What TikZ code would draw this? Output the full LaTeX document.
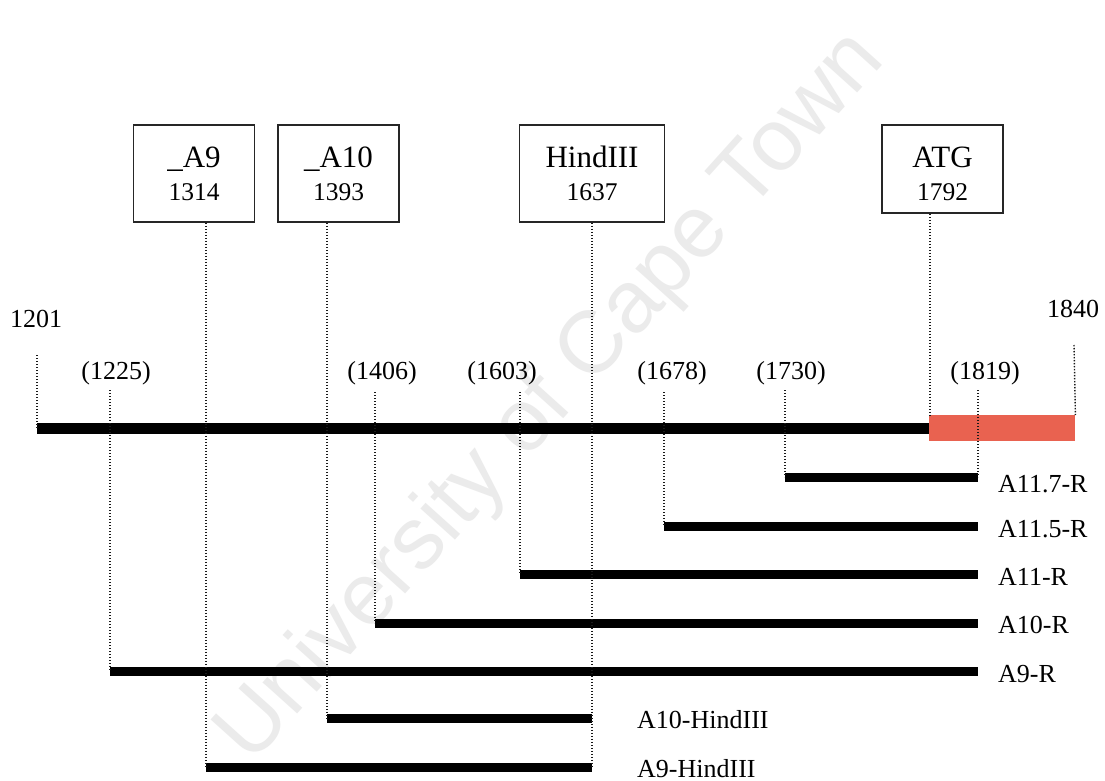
\documentclass[tikz,border=0pt]{standalone}
\usepackage{fontspec}
\setmainfont{Liberation Serif}
\newfontfamily\wmfont{Liberation Sans}
\definecolor{cdsred}{RGB}{233,98,80}
\begin{document}
\begin{tikzpicture}[x=1pt,y=-1pt,
  box/.style={draw=black!85, line width=1.6pt, inner sep=0pt, minimum height=97pt},
  boxt/.style={font=\fontsize{31}{34}\selectfont, anchor=base, inner sep=0pt},
  boxn/.style={font=\fontsize{25.5}{30}\selectfont, anchor=base, inner sep=0pt},
  dots/.style={line width=1.4pt, dash pattern=on 1.3pt off 1.7pt, black!90},
  bar/.style={line width=9pt, black},
  mainbar/.style={line width=11pt, black},
  num/.style={font=\fontsize{26}{30}\selectfont, anchor=base, inner sep=0pt},
  lab/.style={font=\fontsize{26}{30}\selectfont, anchor=base west, inner sep=0pt}]
\useasboundingbox (0,0) rectangle (1105,781);
\fill[white] (0,0) rectangle (1105,781);
% watermark
\node[rotate=48, text=black!8, font=\wmfont\fontsize{88}{90}\selectfont, inner sep=0pt] (wm) at (552,398) {University of Cape Town};
% boxes
\node[box, minimum width=121pt] (b9) at (194,173.5) {};
\node[boxt] (t9) at (194,167) {\_A9};
\node[boxn] (n9) at (194,200) {1314};
\node[box, minimum width=121pt] (b10) at (338.5,173.5) {};
\node[boxt] (t10) at (338.5,167) {\_A10};
\node[boxn] (n10) at (338.5,200) {1393};
\node[box, minimum width=145pt] (bh) at (592,173.5) {};
\node[boxt] (th) at (592,167) {HindIII};
\node[boxn] (nh) at (592,200) {1637};
\node[box, minimum width=121pt, minimum height=88pt] (ba) at (942.5,169) {};
\node[boxt] (ta) at (942.5,167) {ATG};
\node[boxn] (na) at (942.5,200) {1792};
% number labels
\node[num] (p1201) at (36,327) {1201};
\node[num] (p1225) at (116,379) {(1225)};
\node[num] (p1406) at (382,379) {(1406)};
\node[num] (p1603) at (502,379) {(1603)};
\node[num] (p1678) at (672,379) {(1678)};
\node[num] (p1730) at (791,379) {(1730)};
\node[num] (p1819) at (985,379) {(1819)};
\node[num] (p1840) at (1073,317) {1840};
% main bar and coding region
\coordinate (m0) at (37,428.5);
\coordinate (m1) at (929,428.5);
\draw[mainbar] (m0) -- (m1);
\node[fill=cdsred, inner sep=0pt, minimum width=146pt, minimum height=26pt, anchor=north west] (cds) at (929,415) {};
% fragments
\coordinate (s117) at (785,477);   \coordinate (e117) at (978,477);
\coordinate (s115) at (664,526);   \coordinate (e115) at (978,526);
\coordinate (s11) at (520,574);    \coordinate (e11) at (978,574);
\coordinate (s10) at (375,623);    \coordinate (e10) at (978,623);
\coordinate (s9) at (110,671);     \coordinate (e9) at (978,671);
\coordinate (s10h) at (327,718);   \coordinate (e10h) at (592,718);
\coordinate (s9h) at (206,767);    \coordinate (e9h) at (592,767);
\draw[bar] (s117) -- (e117);
\draw[bar] (s115) -- (e115);
\draw[bar] (s11) -- (e11);
\draw[bar] (s10) -- (e10);
\draw[bar] (s9) -- (e9);
\draw[bar] (s10h) -- (e10h);
\draw[bar] (s9h) -- (e9h);
\node[lab] (l117) at (998,492) {A11.7-R};
\node[lab] (l115) at (998,537) {A11.5-R};
\node[lab] (l11) at (998,585) {A11-R};
\node[lab] (l10) at (998,633) {A10-R};
\node[lab] (l9) at (998,682) {A9-R};
\node[lab] (l10h) at (637,728) {A10-HindIII};
\node[lab] (l9h) at (637,777) {A9-HindIII};
% dotted guide lines
\coordinate (d1201) at (37,355);
\coordinate (d1225) at (110,390);
\coordinate (d1406) at (375,392);
\coordinate (d1603) at (520,392);
\coordinate (d1678) at (664,392);
\coordinate (d1730) at (785,390);
\coordinate (d1819) at (978,390);
\coordinate (d1840) at (1074,345);
\coordinate (atg) at (930,415);
\draw[dots] (d1201) -- (m0);
\draw[dots] (d1225) -- (s9);
\draw[dots] (d1406) -- (s10);
\draw[dots] (d1603) -- (s11);
\draw[dots] (d1678) -- (s115);
\draw[dots] (d1730) -- (s117);
\draw[dots] (d1819) -- (e117);
\draw[dots] (d1840) -- (cds.north east);
\draw[dots] (ba.south -| atg) -- (atg);
\draw[dots] (b9.south -| s9h) -- (s9h);
\draw[dots] (b10.south -| s10h) -- (s10h);
\draw[dots] (bh.south -| e9h) -- (e9h);
\end{tikzpicture}
\end{document}
